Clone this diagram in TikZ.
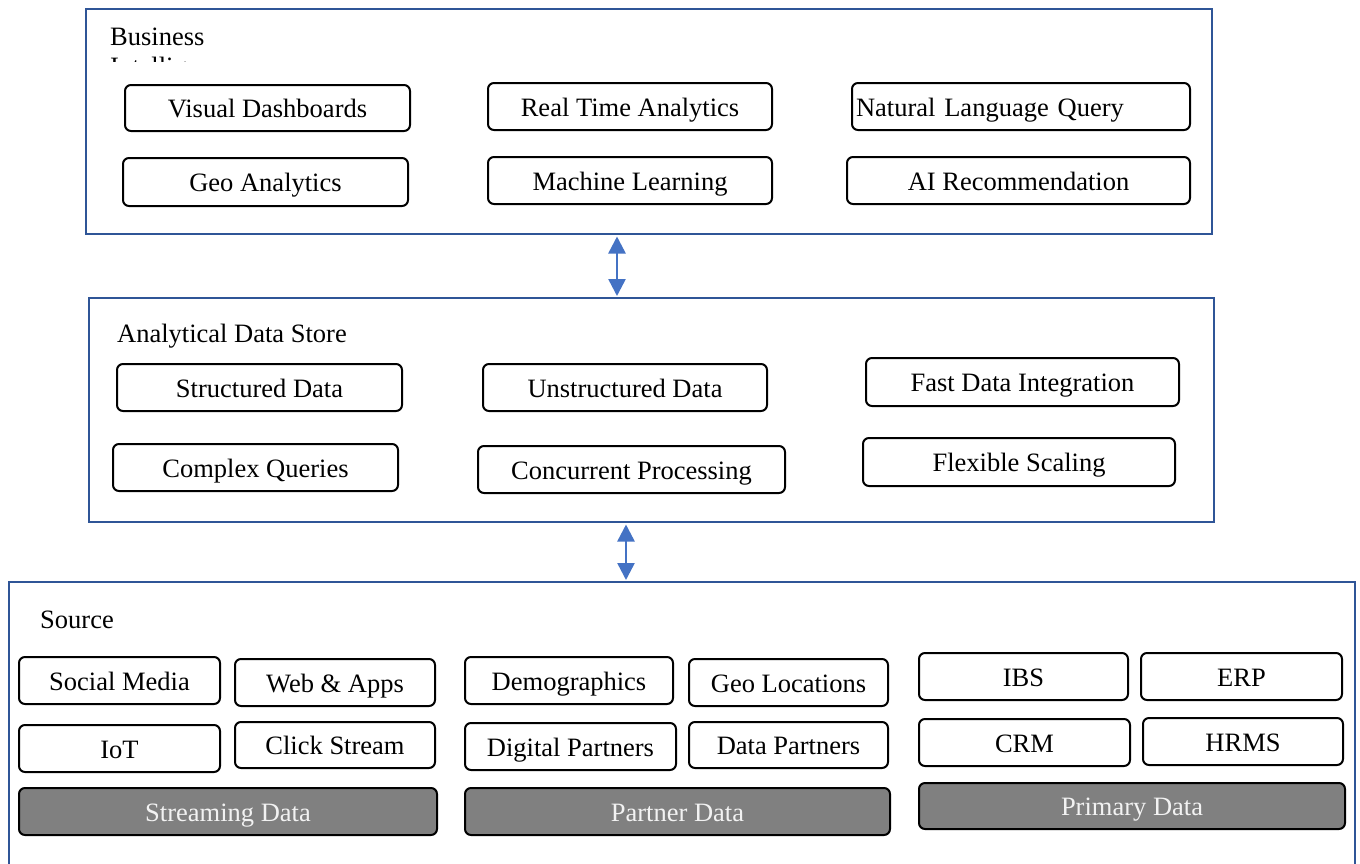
\documentclass[tikz,border=0pt]{standalone}
\usepackage{fontspec}
\setmainfont{Liberation Serif}
\usetikzlibrary{arrows.meta}

\definecolor{frameblue}{RGB}{47,85,151}
\definecolor{arrowblue}{RGB}{68,114,196}
\definecolor{bandgray}{RGB}{128,128,128}
\definecolor{bandtext}{RGB}{242,242,242}

\tikzset{
  txt/.style={font=\fontsize{26.5}{31}\selectfont},
  item/.style={txt, draw=black, line width=2pt, rounded corners=6pt, fill=white,
    inner sep=0pt, text height=19pt, text depth=0pt},
  band/.style={item, fill=bandgray, text=bandtext},
  layer/.style={draw=frameblue, line width=2pt, inner sep=0pt, fill=white},
  title/.style={txt, anchor=base west, inner sep=0pt},
  link/.style={arrowblue, line width=2.5pt,
    {Triangle[width=17pt,length=17pt]}-{Triangle[width=17pt,length=17pt]}},
}

% box from corner (x1,y1) to (x2,y2), y measured downwards
\newcommand\bx[7][item]{%
  \node[#1, minimum width={(#5)-(#3)}, minimum height={(#6)-(#4)}]
    (#2) at ({((#3)+(#5))/2},{((#4)+(#6))/2}) {#7};}

\begin{document}
\begin{tikzpicture}[x=1pt,y=-1pt]
\clip (0,0) rectangle (1360,863);
\fill[white] (0,0) rectangle (1360,863);

% ---------- layers ----------
\bx[layer]{bi}{86}{9}{1212}{234}{}
\bx[layer]{ads}{89}{298}{1214}{522}{}
\bx[layer]{src}{9}{582}{1355}{920}{}

% ---------- Business Intelligence ----------
\begin{scope}
  \clip (90,12) rectangle (1208,61.5);
  \node[title] (bititle) at (110,45) {Business};
  \node[title] (bititle2) at (110,75) {Intelligence};
\end{scope}
\bx{vd}{125}{85}{410}{131}{Visual Dashboards}
\bx{rta}{488}{83}{772}{130}{Real Time Analytics}
\bx[item, text width=330pt, align=left]{nlq}{852}{83}{1190}{130}{Natural Language Query}
\bx{ga}{123}{158}{408}{206}{Geo Analytics}
\bx{ml}{488}{157}{772}{204}{Machine Learning}
\bx{air}{847}{157}{1190}{204}{AI Recommendation}

% ---------- Analytical Data Store ----------
\node[title] (adstitle) at (117,342) {Analytical Data Store};
\bx{sd}{117}{364}{402}{411}{Structured Data}
\bx{ud}{483}{364}{767}{411}{Unstructured Data}
\bx{fdi}{866}{358}{1179}{406}{Fast Data Integration}
\bx{cq}{113}{444}{398}{491}{Complex Queries}
\bx{cp}{478}{446}{785}{493}{Concurrent Processing}
\bx{fs}{863}{438}{1175}{486}{Flexible Scaling}

% ---------- Source ----------
\node[title] (srctitle) at (40,628) {Source};
\bx{sm}{19}{657}{220}{704}{Social Media}
\bx{wa}{235}{659}{435}{706}{Web \& Apps}
\bx{iot}{19}{725}{220}{772}{IoT}
\bx{cs}{235}{722}{435}{768}{Click Stream}
\bx[band]{sdata}{19}{788}{437}{835}{Streaming Data}

\bx{dem}{465}{657}{673}{704}{Demographics}
\bx{gl}{689}{659}{888}{706}{Geo Locations}
\bx{dp}{465}{723}{676}{770}{Digital Partners}
\bx{dap}{689}{722}{888}{768}{Data Partners}
\bx[band]{pdata}{465}{788}{890}{835}{Partner Data}

\bx{ibs}{919}{653}{1128}{700}{IBS}
\bx{erp}{1141}{653}{1342}{700}{ERP}
\bx{crm}{919}{719}{1130}{766}{CRM}
\bx{hrms}{1143}{718}{1343}{765}{HRMS}
\bx[band]{prdata}{919}{783}{1345}{829}{Primary Data}

% ---------- links between layers ----------
\coordinate (l1) at (617,0);
\coordinate (l2) at (626,0);
\draw[link] ([yshift=-1.5pt]bi.south -| l1) -- ([yshift=1pt]ads.north -| l1);
\draw[link] ([yshift=-1.5pt]ads.south -| l2) -- ([yshift=1pt]src.north -| l2);
\end{tikzpicture}
\end{document}
